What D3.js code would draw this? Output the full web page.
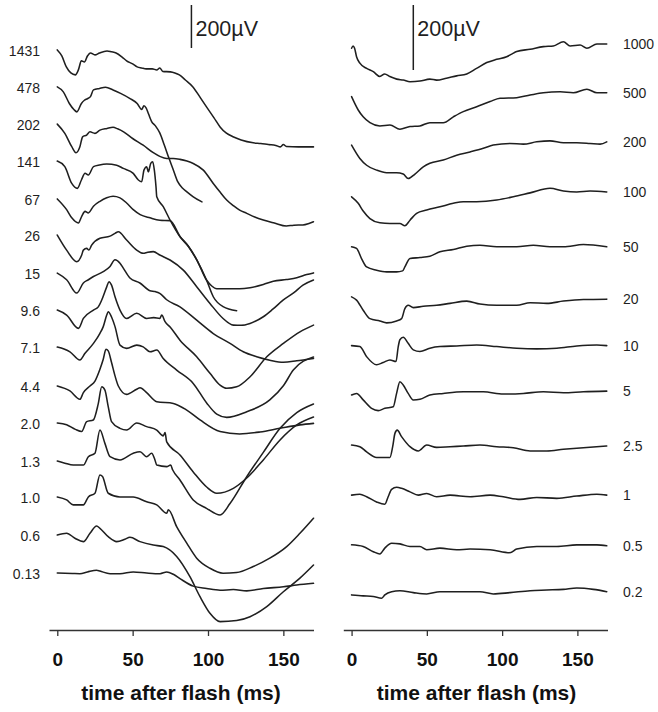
<!DOCTYPE html>
<html><head><meta charset="utf-8">
<script src="https://cdn.jsdelivr.net/npm/d3@7"></script>
<style>body{margin:0;background:#fff}svg{display:block}</style>
</head><body>
<svg id="chart" width="658" height="712"></svg>
<script>
// ---------- data ----------
const timeTicks = [0, 50, 100, 150];           // ms
const scaleBarUV = 200;                          // µV
const axisTitle = "time after flash (ms)";

const leftLabels  = ["1431","478","202","141","67","26","15","9.6","7.1","4.4","2.0","1.3","1.0","0.6","0.13"];
const leftOffsets = [2698,2526,2353,2181,2005,1837,1660,1488,1316,1135,963,786,619,442,265]; // µV stacking offsets
const rightLabels  = ["1000","500","200","100","50","20","10","5","2.5","1","0.5","0.2"];
const rightOffsets = [1790,1641,1492,1333,1179,1025,875,723,569,415,262,108];     // µV stacking offsets

// left panel traces: [time ms, µV relative to trace start]
const L1431 = [[0,0],[3,-28],[6,-79],[9,-107],[12,-116],[14,-93],[16,-51],[18,-56],[20,-28],[22,-14],[25,-23],[28,-14],[33,-5],[36,-9],[39,-14],[43,-33],[46,-51],[50,-65],[53,-79],[56,-84],[59,-88],[63,-88],[66,-93],[68,-84],[70,-100],[75,-102],[78,-107],[81,-116],[85,-140],[90,-172],[95,-223],[99,-265],[104,-316],[108,-358],[112,-386],[117,-405],[122,-419],[130,-432],[135,-435],[140,-440],[145,-444],[148,-451],[150,-440],[152,-449],[160,-451],[170,-451]];
const L478 = [[0,0],[4,-23],[8,-77],[11,-105],[13,-116],[16,-77],[18,-62],[20,-55],[22,-45],[24,-14],[28,-7],[32,-2],[37,-14],[42,-30],[48,-53],[53,-77],[56,-105],[57.5,-88],[59,-99],[60.5,-125],[62.6,-161],[65,-180],[68,-214],[71,-270],[74,-330],[77,-386],[80,-442],[83,-470],[86,-488],[90,-510],[96,-535]];
const L202 = [[0,0],[5,-43],[9.6,-105],[12.4,-133],[15,-105],[16.8,-59],[19.5,-51],[21.7,-36],[25,-43],[28.3,-28],[33,-20],[37,-15],[40,-22],[44,-36],[50,-67],[57,-98],[63.7,-133],[68,-150],[72.6,-160],[77,-160],[81.4,-164],[86,-172],[90.2,-183],[96.9,-214],[103.5,-276],[108,-316],[112.4,-353],[117,-380],[121,-400],[125.7,-415],[131,-432],[136.7,-446],[144,-460],[152,-474],[157,-470],[163,-469],[167,-462],[170,-454]];
const L141 = [[0,0],[5,-26],[9.6,-104],[13.3,-127],[16,-88],[18.4,-57],[20.6,-65],[24,-26],[28,-18],[32.8,-14],[39.4,-19],[43.8,-34],[50.4,-57],[53.8,-88],[56,-96],[57.5,-42],[59.3,-26],[60.4,-50],[62,-11],[63.3,-3],[64.4,-42],[65.5,-120],[66,-166],[70.3,-212],[74.8,-274],[81.4,-352],[87,-397],[92.5,-460],[99,-553],[103.5,-631],[110,-677],[119,-696]];
const L67 = [[0,0],[6.2,-50],[9.6,-88],[14,-112],[16.2,-81],[18.4,-58],[20.6,-65],[24,-34],[28.3,-11],[32.8,5],[37,12],[41.6,5],[46,-19],[50.4,-50],[55,-73],[61.5,-88],[68,-99],[74.8,-101],[81.4,-174],[87,-220],[92.5,-282],[99,-377],[102.5,-405],[105.8,-418],[114.6,-418],[121,-418],[127.9,-413],[136.7,-398],[143.3,-383],[152,-375],[158.9,-367],[165.5,-352],[170,-344]];
const L26 = [[0,0],[6.2,-70],[12.9,-124],[16.2,-93],[17.3,-70],[19.5,-62],[21,-70],[22.8,-47],[28.3,-15],[35,-5],[38.3,8],[40.5,15],[46,-23],[52.7,-70],[57,-85],[60,-80],[63.7,-77],[68,-93],[74.8,-116],[83.6,-163],[92.5,-240],[101.3,-318],[110,-388],[116.8,-419],[122,-420],[127.9,-411],[136.7,-380],[143,-345],[150,-302],[157,-268],[163,-233],[170,-209]];
const L15 = [[0,0],[6.2,-31],[12.9,-93],[17.3,-46],[20.6,-31],[24,-16],[30.5,7],[35,31],[38.3,62],[41.6,46],[43.8,23],[48.2,-23],[54.8,-46],[61.5,-82],[65,-86],[68,-94],[72.6,-124],[81.4,-157],[92.5,-219],[103.5,-281],[114.6,-327],[123.4,-366],[132.3,-389],[141,-405],[150,-415],[158.9,-408],[165,-402],[170,-397]];
const L9_6 = [[0,0],[6.2,-23],[14,-85],[17.3,-39],[24,0],[27.2,15],[29.5,47],[32.8,108],[34.3,132],[36,116],[38.3,62],[41.6,0],[46,-39],[52.7,-15],[59.3,-39],[64,-35],[68,-39],[69.3,-23],[71.5,-54],[75,-80],[81.4,-140],[92.5,-217],[101.3,-294],[108,-349],[112.4,-364],[119,-357],[127.9,-310],[139,-217],[150,-155],[161,-101],[170,-70]];
const L7_1 = [[0,0],[8.4,-22],[15,-60],[18.4,-29],[24,17],[28.3,64],[30.5,95],[32.8,149],[33.8,164],[36,140],[38.3,95],[41.6,9],[46,-6],[52.7,9],[57,1],[61.5,-22],[66,-14],[70.3,-53],[79.2,-107],[90.2,-169],[99.1,-260],[105.8,-312],[112.4,-327],[125.7,-301],[141,-246],[150,-180],[156.6,-107],[170,-46]];
const L4_4 = [[0,0],[8.4,-23],[15,-62],[17.3,-31],[21.7,0],[25,23],[28.3,78],[30.5,124],[32.3,171],[33.8,163],[36,109],[38.3,47],[40.5,0],[46,-39],[52.7,-15],[54.9,-8],[59.3,-31],[66,-73],[77,-81],[85.9,-112],[94.7,-158],[108,-212],[121,-223],[134.5,-214],[147.8,-197],[161,-181],[170,-174]];
const L2_0 = [[0,0],[6.2,-8],[12,-30],[16.2,-40],[19.5,6],[23.9,14],[27.2,90],[29.5,168],[31.6,153],[33.8,76],[36,6],[41.6,-25],[46,-33],[52.7,0],[59.3,-17],[66,-33],[70.3,-60],[71.5,-45],[72.6,-88],[81.4,-149],[90.2,-228],[99.1,-298],[105.8,-327],[116.8,-304],[125.7,-256],[136.7,-172],[147.8,-79],[158.9,-9],[170,28]];
const L1_3 = [[0,0],[5,-10],[10.6,-19],[17.3,-19],[20.6,20],[25,36],[28.3,144],[31.6,82],[35,20],[41.6,5],[50.4,36],[54.9,43],[59.3,20],[62.6,36],[64.8,5],[66,-19],[72.6,-26],[75.2,-19],[76.6,-42],[81.4,-88],[90.2,-181],[99,-220],[108,-251],[114.6,-198],[125.7,-73],[136.7,40],[147.8,152],[158.9,225],[170,265]];
const L1_0 = [[0,0],[6.2,-14],[10.6,-37],[17.3,-37],[20.6,0],[25,17],[28.3,102],[30,95],[33.8,17],[41.6,0],[50.4,0],[59.3,-23],[66,-37],[72.6,-76],[73.7,-60],[79.2,-138],[85.9,-215],[92.5,-285],[101.3,-332],[110,-355],[119,-352],[130,-324],[141,-285],[152.2,-231],[161,-169],[170,-99]];
const L0_6 = [[0,0],[6.2,8],[11.7,-15],[17.3,-31],[21.7,8],[26.1,42],[28.3,31],[33.8,-8],[39.4,-31],[44.9,-20],[48.2,-11],[54.9,-31],[63.7,-47],[70.3,-54],[79.2,-100],[88,-194],[94.7,-287],[101.3,-364],[108,-403],[119,-398],[127.9,-380],[139,-333],[150,-264],[161,-201],[170,-140]];
const L0_13 = [[0,0],[10,-2],[15,-3],[20,5],[26.1,13],[28.3,9],[35,-3],[41.6,-3],[50.4,5],[59.3,0],[68.2,-3],[72.6,5],[77,-6],[81.4,-26],[90.2,-61],[99.1,-72],[108,-80],[116.8,-77],[125.7,-83],[136.7,-72],[150,-64],[158.9,-56],[170,-48]];

// right panel traces
const R1000 = [[0,0],[1,7],[2,0],[3.3,-26],[5.5,-46],[10,-62],[14.4,-72],[18.8,-87],[22,-79],[25.4,-87],[30,-95],[34.3,-98],[38.8,-103],[45.4,-101],[52,-95],[56.5,-98],[63,-92],[69.8,-85],[76.5,-79],[83,-62],[89.8,-44],[96.4,-34],[103,-26],[106.4,-18],[109.7,-10],[118.6,-3],[127.4,5],[134,7],[140.7,20],[145.2,7],[151.8,10],[156.3,0],[163,13],[169.5,13]];
const R500 = [[0,0],[4.4,-41],[7.7,-62],[12.2,-80],[18.8,-90],[25.5,-87],[32.1,-100],[38.8,-92],[45.4,-90],[52,-80],[60.9,-80],[67.6,-62],[74.2,-46],[83.1,-31],[92,-15],[98.6,-5],[109.7,-3],[118.6,5],[127.4,12],[138.5,15],[147.3,12],[156.3,23],[163,12],[169.5,12]];
const R200 = [[0,0],[5.5,-41],[10,-62],[16.6,-77],[23.3,-85],[29.9,-85],[34.3,-89],[37.6,-103],[42.1,-89],[47.6,-67],[52,-56],[60.9,-46],[69.8,-31],[78.7,-21],[87.5,-10],[94.1,0],[105.2,5],[114.1,3],[123,10],[131.8,13],[140.7,7],[149.6,7],[158.4,5],[165.1,3],[169.5,10]];
const R100 = [[0,0],[4.4,-20],[7.7,-44],[12.2,-67],[18.8,-80],[25.5,-82],[32.1,-82],[35.4,-89],[38.8,-72],[43.2,-51],[49.9,-41],[58.7,-31],[67.6,-20],[74.2,-15],[83.1,-15],[96.4,-10],[107.4,0],[118.6,12],[131.8,26],[140.7,18],[149.6,15],[158.4,18],[169.5,15]];
const R50 = [[0,0],[3.3,-5],[6.6,-36],[10,-62],[16.6,-72],[23.3,-77],[29.9,-77],[33.9,-74],[35.4,-62],[38.8,-36],[45.4,-33],[52,-29],[58.7,-15],[67.6,-8],[76.5,2],[85.3,5],[96.4,0],[109.7,0],[120.7,5],[131.8,0],[140.7,0],[154,7],[169.5,0]];
const R20 = [[0,0],[3.3,-10],[7.7,-41],[12.2,-67],[18.8,-74],[23.3,-80],[29.9,-74],[33.2,-67],[35.4,-36],[37.6,-26],[41,-33],[47.6,-29],[56.5,-26],[65.4,-20],[76.5,-13],[85.3,-22],[96.4,-26],[109.7,-26],[118.6,-18],[129.7,-20],[140.7,-13],[154,-8],[169.5,-7]];
const R10 = [[0,0],[5.5,-3],[10,-34],[16.6,-59],[21,-52],[25.5,-44],[29.5,-49],[31,-3],[32.1,18],[34.3,26],[37.6,7],[41,-13],[45.4,-18],[52,-8],[58.7,-3],[69.8,-1],[83.1,2],[96.4,-3],[109.7,-8],[123,-10],[136.3,-8],[149.6,-1],[162.9,2],[169.5,0]];
const R5 = [[0,0],[3.3,5],[7.7,-15],[13.3,-41],[17.7,-48],[22.1,-41],[27.7,-36],[29.9,5],[32.1,41],[34.3,31],[37.6,5],[41,-15],[45.4,-13],[52,0],[60.9,5],[74.2,10],[87.5,10],[100.8,3],[114.1,5],[127.4,10],[140.7,7],[154,10],[169.5,12]];
const R2_5 = [[0,0],[5.5,-5],[10,-21],[16.6,-38],[25.5,-38],[27.3,-5],[28.8,36],[30.3,46],[33.2,26],[38.8,-5],[44.3,-18],[49.9,0],[56.5,-7],[65.4,-5],[74.2,-3],[85.3,0],[96.4,-5],[107.4,-8],[118.6,-18],[129.7,-18],[140.7,-13],[154,-8],[169.5,-3]];
const R1 = [[0,0],[5.5,3],[10,-5],[16.6,-21],[22.1,-28],[24.3,-5],[26.6,18],[29.9,24],[33.2,21],[38.8,10],[44.3,0],[49.9,5],[56.5,-5],[65.4,0],[78.7,-5],[92,0],[100.8,-5],[111.9,-13],[123,-7],[136.3,-10],[149.6,-3],[162.9,3],[169.5,0]];
const R0_5 = [[0,0],[7.7,-5],[14.4,-21],[18.8,-28],[22.1,-10],[26.6,5],[32.1,3],[38.8,-5],[45.4,-5],[49.9,-15],[58.7,-10],[69.8,-15],[78.7,-13],[92,-15],[105.2,-24],[109.7,-13],[123,-5],[136.3,-5],[149.6,0],[162.9,0],[169.5,-3]];
const R0_2 = [[0,0],[7.7,-3],[14.4,-5],[20,-10],[22.1,0],[26.6,10],[32.1,13],[41,7],[49.9,3],[58.7,10],[67.6,10],[76.5,10],[85.3,10],[94.1,3],[105.2,7],[118.6,13],[129.7,15],[140.7,17],[149.6,21],[160.6,17],[169.5,10]];

const leftTraces  = [L1431,L478,L202,L141,L67,L26,L15,L9_6,L7_1,L4_4,L2_0,L1_3,L1_0,L0_6,L0_13];
const rightTraces = [R1000,R500,R200,R100,R50,R20,R10,R5,R2_5,R1,R0_5,R0_2];

// ---------- drawing ----------
const FONT = "'Liberation Sans', Arial, Helvetica, sans-serif";
const INK = "#1f1f1f";
const svg = d3.select("#chart");

const panels = [
  { traces:leftTraces, offsets:leftOffsets, labels:leftLabels, side:"left",
    x:d3.scaleLinear().domain([-5.5,170]).range([49,313.5]),
    y:d3.scaleLinear().domain([0,200]).range([630,587]),
    barT:89, barBase:2707 },
  { traces:rightTraces, offsets:rightOffsets, labels:rightLabels, side:"right",
    x:d3.scaleLinear().domain([-5.5,170]).range([343.3,607.5]),
    y:d3.scaleLinear().domain([0,200]).range([630,565]),
    barT:41, barBase:1723 }
];

panels.forEach(p => {
  const g = svg.append("g");
  p.traces.forEach((tr, i) => {
    const off = p.offsets[i];
    const line = d3.line().curve(d3.curveMonotoneX)
      .x(d => p.x(d[0])).y(d => p.y(off + d[1]));
    g.append("path").attr("d", line(tr))
      .attr("fill","none").attr("stroke",INK).attr("stroke-width",1.55)
      .attr("stroke-linejoin","round").attr("stroke-linecap","round");
    if (p.side === "left") {
      g.append("text").attr("x",40).attr("y",p.y(off)+1).attr("dy","0.35em")
        .attr("text-anchor","end").attr("font-family",FONT).attr("font-size",14)
        .attr("fill",INK).text(p.labels[i]);
    } else {
      const last = tr[tr.length-1];
      g.append("text").attr("x",623).attr("y",p.y(off+last[1])).attr("dy","0.35em")
        .attr("text-anchor","start").attr("font-family",FONT).attr("font-size",14)
        .attr("fill",INK).text(p.labels[i]);
    }
  });

  // scale bar
  const bx = p.x(p.barT);
  g.append("line").attr("x1",bx).attr("x2",bx)
    .attr("y1",p.y(p.barBase)).attr("y2",p.y(p.barBase+scaleBarUV))
    .attr("stroke",INK).attr("stroke-width",1.5);
  g.append("text").attr("x",bx+4).attr("y",36).attr("font-family",FONT)
    .attr("font-size",21.5).attr("fill",INK).text(scaleBarUV + "\u00B5V");

  // axis
  const ax = g.append("g").attr("transform","translate(0,630)")
    .call(d3.axisBottom(p.x).tickValues(timeTicks).tickSize(6).tickSizeOuter(0));
  ax.select(".domain").attr("stroke","#333").attr("stroke-width",1.3);
  ax.selectAll(".tick line").attr("stroke","#333").attr("stroke-width",1.3);
  ax.selectAll(".tick text").attr("y",23).attr("font-family",FONT)
    .attr("font-size",19).attr("font-weight","bold").attr("fill","#111");

  g.append("text").attr("x", p.side==="left" ? 181 : 476.5).attr("y",700)
    .attr("text-anchor","middle").attr("font-family",FONT).attr("font-size",21)
    .attr("font-weight","bold").attr("fill","#111").text(axisTitle);
});
</script>
</body></html>
